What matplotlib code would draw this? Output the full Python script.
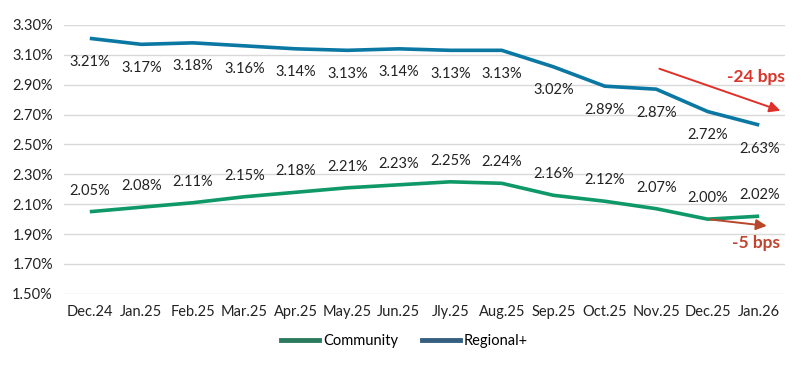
import matplotlib.pyplot as plt
from matplotlib.ticker import FuncFormatter

plt.rcParams["font.family"] = ["Lato", "DejaVu Sans"]

months = ["Dec.24", "Jan.25", "Feb.25", "Mar.25", "Apr.25", "May.25", "Jun.25",
          "Jly.25", "Aug.25", "Sep.25", "Oct.25", "Nov.25", "Dec.25", "Jan.26"]
community = [2.05, 2.08, 2.11, 2.15, 2.18, 2.21, 2.23, 2.25, 2.24, 2.16, 2.12, 2.07, 2.00, 2.02]
regional = [3.21, 3.17, 3.18, 3.16, 3.14, 3.13, 3.14, 3.13, 3.13, 3.02, 2.89, 2.87, 2.72, 2.63]

BLUE = "#0b78a3"
GREEN = "#0f9868"
TEXT = "#222222"

fig = plt.figure(figsize=(8.01, 3.72), dpi=100)
ax = fig.add_axes([0.080, 0.210, 0.900, 0.723])

x = list(range(len(months)))
ax.plot(x, community, color=GREEN, linewidth=2.6, solid_capstyle="butt", zorder=3)
ax.plot(x, regional, color=BLUE, linewidth=2.6, solid_capstyle="butt", zorder=3)

for i in x:
    ax.annotate(f"{regional[i]:.2f}%", (i, regional[i]), xytext=(0, -17),
                textcoords="offset points", ha="center", va="center",
                fontsize=10.5, color=TEXT)
    ax.annotate(f"{community[i]:.2f}%", (i, community[i]), xytext=(0, 15),
                textcoords="offset points", ha="center", va="center",
                fontsize=10.5, color=TEXT)

# trend arrows
ax.annotate("", xy=(13.46, 2.72), xytext=(11.01, 3.013),
            arrowprops=dict(arrowstyle="-|>", color="#e0302a", lw=1.4,
                            mutation_scale=16), zorder=4)
ax.text(12.94, 2.953, "-24 bps", color="#d9352b", fontsize=12.5,
        fontweight="bold", ha="center", va="center")
ax.annotate("", xy=(13.2, 1.953), xytext=(12.0, 2.0),
            arrowprops=dict(arrowstyle="-|>", color="#b9472c", lw=1.4,
                            mutation_scale=16), zorder=4)
ax.text(12.94, 1.84, "-5 bps", color="#c0452e", fontsize=12.5,
        fontweight="bold", ha="center", va="center")

ax.set_xlim(-0.5, len(months) - 0.5)
ax.set_ylim(1.50, 3.30)
ax.set_yticks([1.50 + 0.2 * k for k in range(10)])
ax.yaxis.set_major_formatter(FuncFormatter(lambda v, _: f"{v:.2f}%"))
ax.set_xticks(x)
ax.set_xticklabels(months)
ax.tick_params(axis="both", length=0, labelsize=10.5, colors=TEXT)
ax.tick_params(axis="x", pad=8)
ax.tick_params(axis="y", pad=8)
ax.grid(axis="y", color="#d9d9d9", linewidth=1)
ax.set_axisbelow(True)
for s in ax.spines.values():
    s.set_visible(False)

h1, = ax.plot([], [], color="#2c7a5e", linewidth=3.5)
h2, = ax.plot([], [], color="#355f80", linewidth=3.5)
fig.legend([h1, h2], ["Community", "Regional+"], loc="center",
           bbox_to_anchor=(0.505, 0.083), ncol=2, frameon=False,
           fontsize=10.5, handlelength=2.6, columnspacing=1.6, handletextpad=0.3)

fig.savefig("out.png", dpi=100)
